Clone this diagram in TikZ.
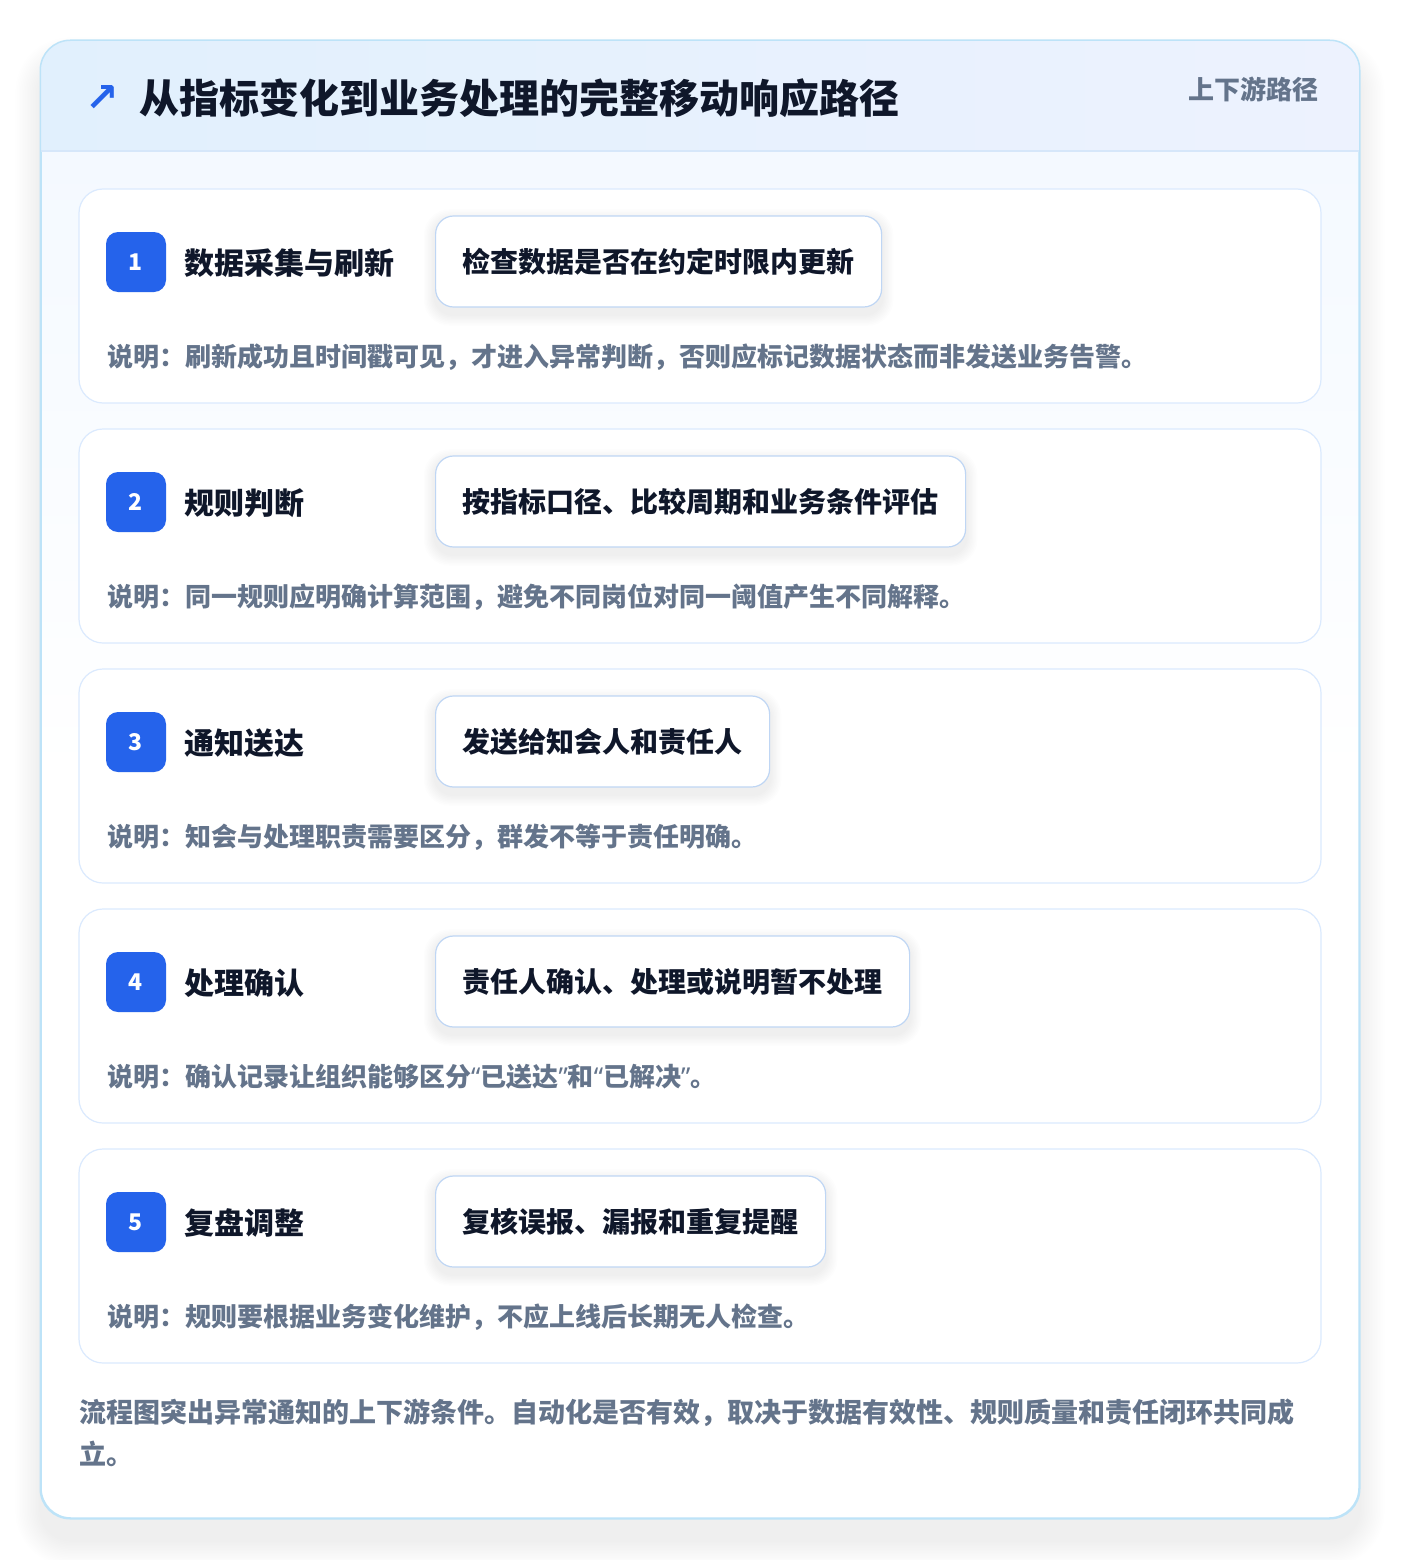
\documentclass[tikz,border=0pt]{standalone}
\usepackage{fontspec}
\setmainfont{Noto Sans CJK SC}
\newfontfamily\symfont{DejaVu Sans}
\newfontfamily\latinfont{Noto Sans}
\definecolor{cbadge}{HTML}{2563EB}
\definecolor{ctitle}{HTML}{0F172A}
\definecolor{cdesc}{HTML}{64748B}
\definecolor{ccardb}{HTML}{DBEAFE}
\definecolor{couterb}{HTML}{BDE3F8}
\definecolor{cactb}{HTML}{BFD6F4}
\definecolor{chl}{HTML}{E1F0FD}
\definecolor{chr}{HTML}{EDF2FE}
\definecolor{ctop}{HTML}{F2F8FF}
\definecolor{cline}{HTML}{D6E7FA}
\pgfdeclarelayer{back}
\pgfdeclarelayer{cards}
\pgfdeclarelayer{shad}
\pgfsetlayers{back,cards,shad,main}
\newcommand{\myopenq}{{\latinfont\bfseries “}}
\newcommand{\mycloseq}{{\latinfont\bfseries ”}}
\tikzset{
  fs/.style={font=\fontsize{#1}{#1}\selectfont\bfseries},
  outercard/.style={draw=couterb, line width=1.5pt, rounded corners=30pt, top color=ctop, bottom color=white, middle color=white,
    minimum width=1318pt, minimum height=1477pt, inner sep=0pt},
  stepcard/.style={draw=ccardb, line width=1.2pt, rounded corners=24pt, fill=white,
    minimum width=1242pt, minimum height=214pt, inner sep=0pt},
  badgebox/.style={fill=cbadge, rounded corners=12pt, minimum width=60pt, minimum height=60pt, inner sep=0pt,
    text=white, fs=23},
  steptitle/.style={anchor=west, inner sep=0pt, text=ctitle, fs=30},
  actbox/.style={anchor=west, draw=cactb, line width=1.2pt, fill=white, rounded corners=18pt, minimum height=91pt,
    inner xsep=27pt, inner ysep=0pt, text=ctitle, fs=28},
  desctext/.style={anchor=west, inner sep=0pt, text=cdesc, fs=26},
  softshadow/.style={fill=black, opacity=#1},
}
\begin{document}
\begin{tikzpicture}[x=1pt,y=-1pt]
\useasboundingbox (0,0) rectangle (1400,1560);
\begin{pgfonlayer}{back}
\fill[white] (0,0) rectangle (1400,1560);
\foreach \k in {1,...,16}
  \fill[softshadow=0.0042, rounded corners=30+\k*1.5]
    ([xshift=-\k*1.6pt, yshift=-22pt-\k*1.6pt]41pt,-1518pt) rectangle ([xshift=\k*1.6pt, yshift=-22pt+\k*1.6pt]1359pt,-41pt);
\node[outercard] (main) at (700,779.5) {};
\begin{scope}
  \clip[rounded corners=30pt] (main.south west) rectangle (main.north east);
  \shade[left color=chl, right color=chr] (41,41) rectangle (1359,151);
  \draw[cline, line width=1.2pt] (41,151) -- (1359,151);
\end{scope}
\draw[couterb, line width=1.5pt, rounded corners=30pt] (main.south west) rectangle (main.north east);
\end{pgfonlayer}
\node[anchor=center, inner sep=0pt, text=cbadge, font=\symfont\bfseries\fontsize{40}{40}\selectfont] (arrow) at (102,99) {↗};
\node[anchor=west, inner sep=0pt, text=ctitle, fs=40] (title) at (139,98) {从指标变化到业务处理的完整移动响应路径};
\node[anchor=east, inner sep=0pt, text=cdesc, fs=26] (tag) at (1319,89) {上下游路径};
\foreach \i/\t/\a/\d in {
  1/数据采集与刷新/检查数据是否在约定时限内更新/说明：刷新成功且时间戳可见，才进入异常判断，否则应标记数据状态而非发送业务告警。,
  2/规则判断/按指标口径、比较周期和业务条件评估/说明：同一规则应明确计算范围，避免不同岗位对同一阈值产生不同解释。,
  3/通知送达/发送给知会人和责任人/说明：知会与处理职责需要区分，群发不等于责任明确。,
  4/处理确认/责任人确认、处理或说明暂不处理/说明：确认记录让组织能够区分\myopenq 已送达\mycloseq 和\myopenq 已解决\mycloseq 。,
  5/复盘调整/复核误报、漏报和重复提醒/说明：规则要根据业务变化维护，不应上线后长期无人检查。}
{
  \pgfmathsetmacro{\cardtop}{189+(\i-1)*240}
  \begin{pgfonlayer}{cards}
  \node[stepcard] (card\i) at (700,\cardtop+107) {};
  \end{pgfonlayer}
  \node[badgebox] (badge\i) at (136,\cardtop+73) {\i};
  \node[steptitle] (stitle\i) at (184,\cardtop+74) {\t};
  \node[actbox] (act\i) at (435,\cardtop+72.5) {\a};
  \begin{pgfonlayer}{shad}
  \foreach \k in {1,...,8}
    \fill[softshadow=0.008, rounded corners=18+\k]
      ([xshift=-\k*1.4pt, yshift=-7pt-\k*1.4pt]act\i.south west) rectangle ([xshift=\k*1.4pt, yshift=-5pt+\k*1.4pt]act\i.north east);
  \end{pgfonlayer}
  \node[desctext] (desc\i) at (107,\cardtop+168) {\d};
}
\node[anchor=north west, inner sep=0pt, text=cdesc, align=left, font=\fontsize{27}{42}\selectfont\bfseries] (foot) at (79,1399)
  {流程图突出异常通知的上下游条件。自动化是否有效，取决于数据有效性、规则质量和责任闭环共同成\\立。};
\end{tikzpicture}
\end{document}
